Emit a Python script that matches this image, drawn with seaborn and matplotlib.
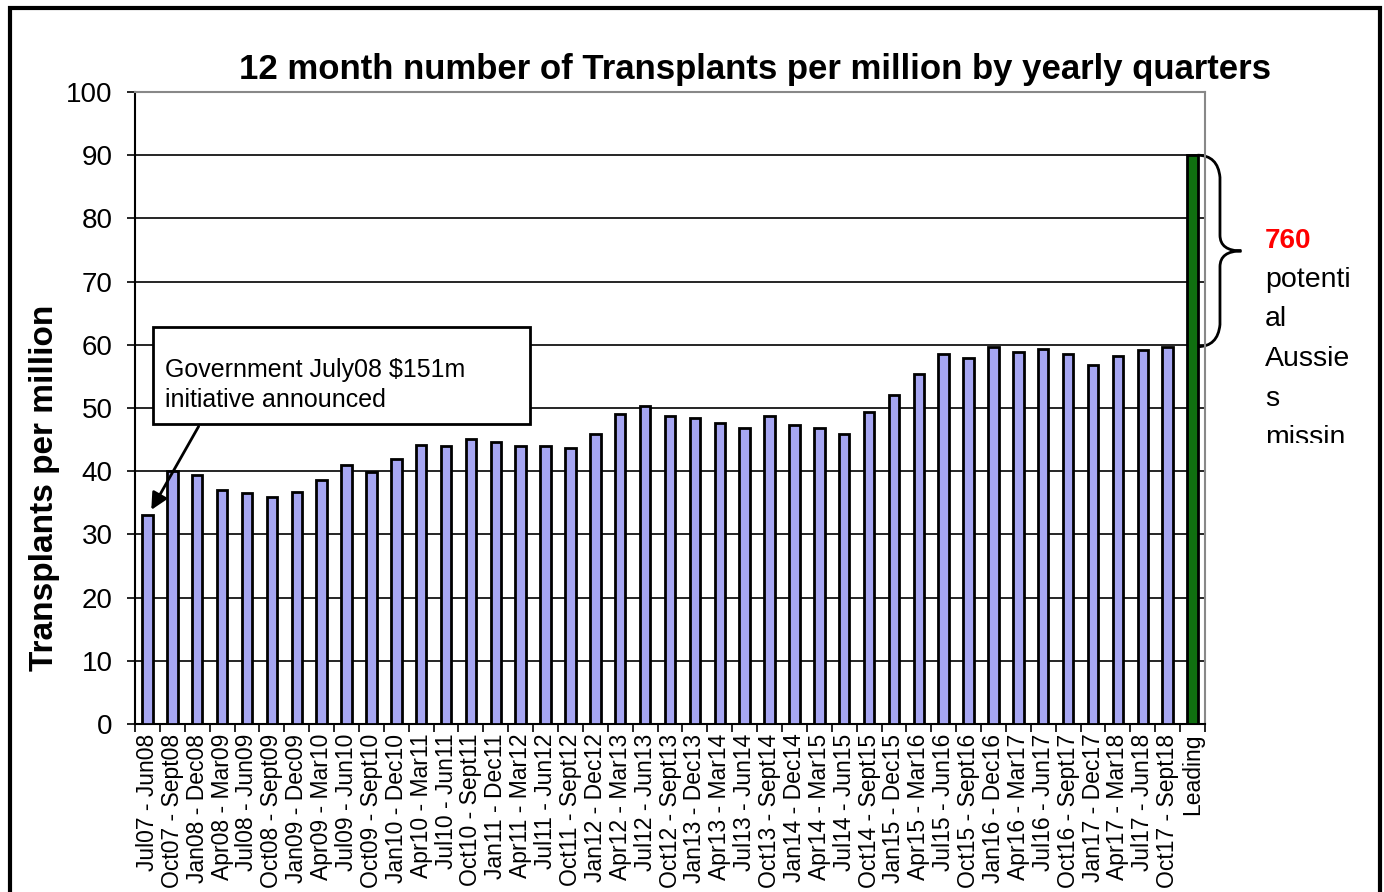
import numpy as np
import pandas as pd
import matplotlib
matplotlib.use("Agg")
import matplotlib.pyplot as plt
import seaborn as sns
from matplotlib.patches import Rectangle, PathPatch
from matplotlib.path import Path
import matplotlib.transforms as mtransforms

periods = [
    "Jul07 - Jun08", "Oct07 - Sept08", "Jan08 - Dec08", "Apr08 - Mar09",
    "Jul08 - Jun09", "Oct08 - Sept09", "Jan09 - Dec09", "Apr09 - Mar10",
    "Jul09 - Jun10", "Oct09 - Sept10", "Jan10 - Dec10", "Apr10 - Mar11",
    "Jul10 - Jun11", "Oct10 - Sept11", "Jan11 - Dec11", "Apr11 - Mar12",
    "Jul11 - Jun12", "Oct11 - Sept12", "Jan12 - Dec12", "Apr12 - Mar13",
    "Jul12 - Jun13", "Oct12 - Sept13", "Jan13 - Dec13", "Apr13 - Mar14",
    "Jul13 - Jun14", "Oct13 - Sept14", "Jan14 - Dec14", "Apr14 - Mar15",
    "Jul14 - Jun15", "Oct14 - Sept15", "Jan15 - Dec15", "Apr15 - Mar16",
    "Jul15 - Jun16", "Oct15 - Sept16", "Jan16 - Dec16", "Apr16 - Mar17",
    "Jul16 - Jun17", "Oct16 - Sept17", "Jan17 - Dec17", "Apr17 - Mar18",
    "Jul17 - Jun18", "Oct17 - Sept18", "Leading",
]
per_million = [
    33.1, 40.0, 39.4, 37.0, 36.5, 35.9, 36.7, 38.6, 41.0, 39.9, 41.9,
    44.1, 44.0, 45.1, 44.6, 44.0, 44.0, 43.7, 45.9, 49.0, 50.3, 48.7,
    48.4, 47.6, 46.8, 48.7, 47.3, 46.8, 45.9, 49.4, 52.1, 55.4, 58.5,
    57.9, 59.7, 58.9, 59.3, 58.5, 56.8, 58.2, 59.2, 59.7, 90.0,
]
leading_gap = (59.7, 90.0)

df = pd.DataFrame({"Period": periods, "Transplants": per_million})
df["Kind"] = ["Leading" if p == "Leading" else "Australia" for p in periods]

sns.set_style("white")
plt.rcParams["font.family"] = ["Liberation Sans", "DejaVu Sans"]
plt.rcParams["text.color"] = "black"
plt.rcParams["xtick.color"] = "black"
plt.rcParams["ytick.color"] = "black"

fig = plt.figure(figsize=(13.84, 8.92), dpi=100)
ax = fig.add_axes([135 / 1384, 1 - 724 / 892, 1070 / 1384, 632 / 892])

sns.barplot(data=df, x="Period", y="Transplants", hue="Kind",
            palette={"Australia": "#9999FF", "Leading": "#008000"},
            dodge=False, width=0.42, edgecolor="black", linewidth=2,
            legend=False, ax=ax, zorder=3)

ax.set_ylim(0, 100)
ax.set_xlim(-0.5, len(periods) - 0.5)
ax.set_yticks(range(0, 101, 10))
ax.tick_params(axis="y", labelsize=20, length=6, width=1.2, color="black",
               labelcolor="black", left=True, pad=10)
ax.yaxis.grid(True, color="black", linewidth=1.2, zorder=0)
ax.set_axisbelow(True)

ax.set_xticks(range(len(periods)))
ax.set_xticklabels(periods, rotation=90, fontsize=16.5, color="black")
ax.set_xticks(np.arange(-0.5, len(periods), 1), minor=True)
ax.tick_params(axis="x", which="major", length=0, pad=7)
ax.tick_params(axis="x", which="minor", length=6, width=1.2, color="black", bottom=True)
ax.set_xlabel("")
ax.set_ylabel("")

for side in ["left", "bottom"]:
    ax.spines[side].set_color("black")
    ax.spines[side].set_linewidth(1.5)
for side in ["top", "right"]:
    ax.spines[side].set_color("#888888")
    ax.spines[side].set_linewidth(1.5)

fig.text(755 / 1384, 1 - 70 / 892,
         "12 month number of Transplants per million by yearly quarters",
         ha="center", va="center", fontsize=25, fontweight="bold", color="black")
fig.text(45 / 1384, 1 - 488 / 892, "Transplants per million", rotation=90,
         ha="center", va="center", fontsize=24, fontweight="bold", color="black")

# annotation box with arrow
ax.annotate("", xy=(0.1, 33.5), xytext=(65 / 1070, (724 - 424) / 6.32),
            xycoords=("data", "data"), textcoords=("axes fraction", "data"),
            arrowprops=dict(arrowstyle="-|>", color="black", lw=2,
                            mutation_scale=25), zorder=5)
fig.patches.append(Rectangle((153 / 1384, 1 - 424 / 892), 377 / 1384, 97 / 892,
                             transform=fig.transFigure, facecolor="white",
                             edgecolor="black", linewidth=2, zorder=4))
fig.text(165 / 1384, 1 - 385 / 892, "Government July08 $151m\ninitiative announced",
         ha="left", va="center", fontsize=18, linespacing=1.3, zorder=6,
         color="black")

# curly brace for the gap
trans = mtransforms.blended_transform_factory(ax.transAxes, ax.transData)
lo, hi = leading_gap
mid = (lo + hi) / 2
x0, x1, x2 = 0.993, 1.014, 1.034
verts = [(x0, hi), (x1 - 0.002, hi), (x1, hi - 3.5),
         (x1, mid + 2.5),
         (x1, mid), (x2, mid),
         (x1, mid), (x1, mid - 2.5),
         (x1, lo + 3.5),
         (x1 - 0.002, lo), (x0, lo)]
codes = [Path.MOVETO, Path.CURVE3, Path.CURVE3, Path.LINETO,
         Path.CURVE3, Path.CURVE3, Path.CURVE3, Path.CURVE3,
         Path.LINETO, Path.CURVE3, Path.CURVE3]
ax.add_patch(PathPatch(Path(verts, codes), transform=trans, facecolor="none",
                       edgecolor="black", linewidth=2, clip_on=False))

clip = Rectangle((1255 / 1384, 1 - 443 / 892), 125 / 1384, 223 / 892,
                 transform=fig.transFigure, facecolor="none", edgecolor="none")
fig.patches.append(clip)
fig.text(1265 / 1384, 1 - 241 / 892, "760", color="red", fontsize=20,
         fontweight="bold", ha="left", va="center")
side_lines = ["potenti", "al", "Aussie", "s", "missin"]
for i, word in enumerate(side_lines):
    t = fig.text(1265 / 1384, 1 - (280 + 39.5 * i) / 892, word, fontsize=20.5,
                 ha="left", va="center", color="black")
    t.set_clip_path(clip)
    t.set_clip_on(True)

# outer frame
fig.patches.append(Rectangle((10 / 1384, -0.05), 1370 / 1384, 1.05 - 8 / 892,
                             transform=fig.transFigure, facecolor="none",
                             edgecolor="black", linewidth=3, zorder=10))

fig.savefig("out.png", dpi=100)
